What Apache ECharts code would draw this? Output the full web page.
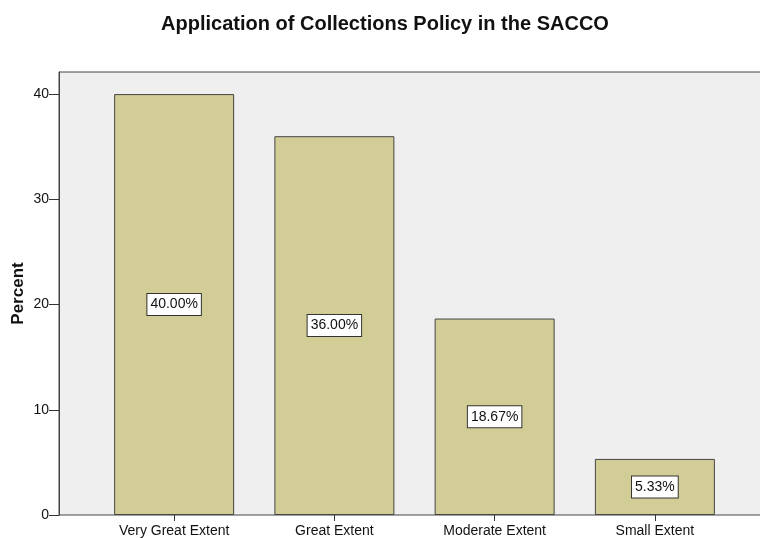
<!DOCTYPE html>
<html>
<head>
<meta charset="utf-8">
<script src="https://cdn.jsdelivr.net/npm/echarts@6/dist/echarts.min.js"></script>
<style>
  html, body { margin: 0; padding: 0; background: #ffffff; }
  #chart { width: 760px; height: 538px; }
</style>
</head>
<body>
<div id="chart"></div>
<script>
// Response categories and their share of respondents (percent)
const categories = ['Very Great Extent', 'Great Extent', 'Moderate Extent', 'Small Extent'];
const percents = [40.00, 36.00, 18.67, 5.33];
const yTicks = [0, 10, 20, 30, 40];

const FONT = '"Liberation Sans", Arial, sans-serif';
const Y_MAX = 42.1;

const chart = echarts.init(document.getElementById('chart'));

chart.setOption({
  animation: false,
  title: {
    text: 'Application of Collections Policy in the SACCO',
    left: 380,
    top: 9,
    textAlign: 'center',
    textStyle: { fontFamily: FONT, fontSize: 20, fontWeight: 'bold', color: '#111' }
  },
  grid: [
    // frame: grey panel with the value axis
    { left: 59, right: -2, top: 72, bottom: 23, show: true,
      containLabel: false, outerBoundsMode: 'none',
      backgroundColor: '#efefef', borderColor: '#444', borderWidth: 1 },
    // inner band range holding the bars
    { left: 94, right: 25, top: 72, bottom: 23,
      containLabel: false, outerBoundsMode: 'none' }
  ],
  xAxis: [
    { gridIndex: 0, type: 'value', min: 0, max: 1, show: false },
    { gridIndex: 1, type: 'category', data: categories,
      axisLine: { show: false },
      axisTick: { show: true, alignWithLabel: true, length: 6,
                  lineStyle: { color: '#333', width: 1 } },
      axisLabel: { margin: 9, color: '#111', fontFamily: FONT, fontSize: 14 }
    }
  ],
  yAxis: [
    { gridIndex: 0, type: 'value', min: 0, max: Y_MAX, interval: 10,
      name: 'Percent', nameLocation: 'middle', nameGap: 32, nameRotate: 90,
      nameMoveOverlap: false,
      nameTextStyle: { fontFamily: FONT, fontSize: 17, fontWeight: 'bold', color: '#111' },
      axisLine: { show: true, lineStyle: { color: '#444', width: 1 } },
      axisTick: { show: true, length: 10, customValues: yTicks,
                  lineStyle: { color: '#333', width: 1 } },
      axisLabel: { margin: 10, color: '#111', fontFamily: FONT, fontSize: 14,
                   customValues: yTicks,
                   formatter: v => (yTicks.indexOf(v) >= 0 ? String(v) : '') },
      splitLine: { show: false }
    },
    { gridIndex: 1, type: 'value', min: 0, max: Y_MAX, show: false, splitLine: { show: false } }
  ],
  series: [
    {
      type: 'bar',
      xAxisIndex: 1, yAxisIndex: 1,
      data: percents,
      barWidth: 120,
      itemStyle: { color: '#d2cd96', borderColor: '#444', borderWidth: 1 },
      label: {
        show: true, position: 'inside',
        formatter: p => p.value.toFixed(2) + '%',
        fontFamily: FONT, fontSize: 14, color: '#111',
        backgroundColor: '#ffffff', borderColor: '#333', borderWidth: 1,
        padding: [4, 3, 3, 3]
      }
    }
  ]
});
</script>
</body>
</html>
